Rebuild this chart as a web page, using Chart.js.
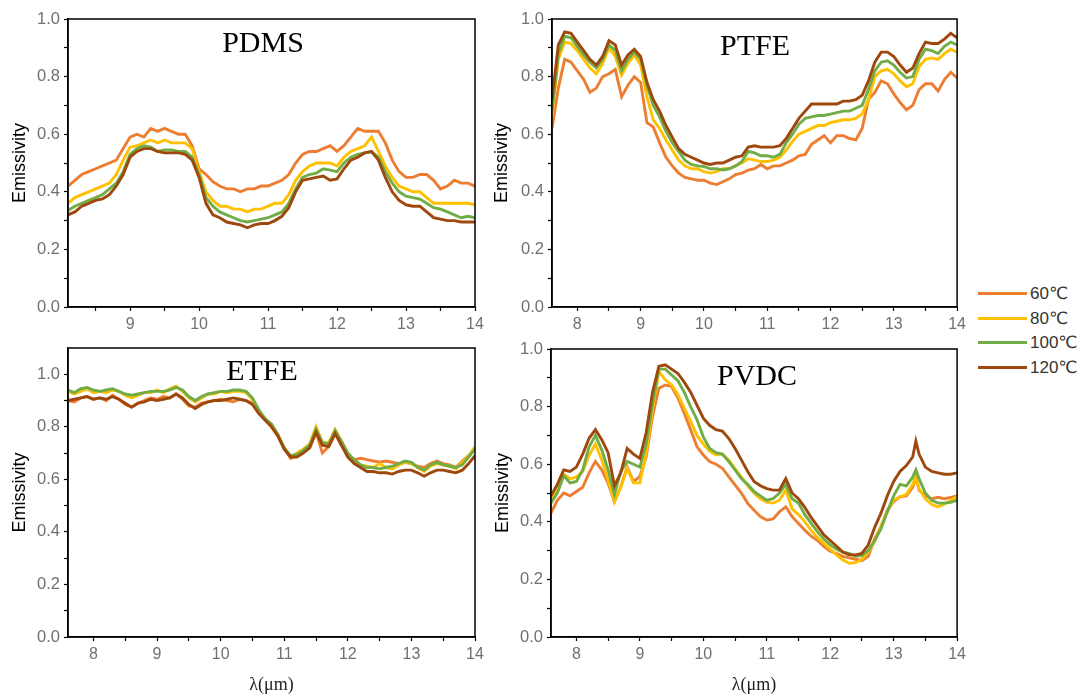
<!DOCTYPE html>
<html lang="en">
<head>
<meta charset="utf-8">
<title>Emissivity spectra</title>
<script src="https://cdn.jsdelivr.net/npm/chart.js@4.4.1/dist/chart.umd.min.js"></script>
<style>
  html, body { margin: 0; padding: 0; background: #fff; }
  body { position: relative; width: 1087px; height: 696px; overflow: hidden; }
  .panel { position: absolute; }
  .panel canvas { display: block; }
  #legend { position: absolute; left: 978px; top: 281px; font-family: "Liberation Sans", Arial, "DejaVu Sans", sans-serif; font-size: 17px; color: #333; }
  #legend .row { display: flex; align-items: center; height: 24.7px; }
  #legend .swatch { width: 49px; height: 3px; margin-right: 3px; }
</style>
</head>
<body>
<div class="panel" style="left:0;top:0;width:490px;height:335px"><canvas id="c0"></canvas></div>
<div class="panel" style="left:480px;top:0;width:490px;height:335px"><canvas id="c1"></canvas></div>
<div class="panel" style="left:0;top:330px;width:490px;height:366px"><canvas id="c2"></canvas></div>
<div class="panel" style="left:480px;top:330px;width:490px;height:366px"><canvas id="c3"></canvas></div>
<div id="legend"></div>
<script>
// ---- series and labels ----
const seriesNames  = ['60℃', '80℃', '100℃', '120℃'];
const seriesColors = ['#ED7D31', '#FFC000', '#70AD47', '#9E480E'];
const panelNames   = ['PDMS', 'PTFE', 'ETFE', 'PVDC'];
const yTitle = 'Emissivity';
const xTitle = 'λ(μm)';

// ---- tick values ----
const yTicks = [0, 0.1, 0.2, 0.3, 0.4, 0.5, 0.6, 0.7, 0.8, 0.9, 1.0];
const xTicksPDMS = [8.5, 9, 9.5, 10, 10.5, 11, 11.5, 12, 12.5, 13, 13.5, 14];
const xTicksFull = [8, 8.5, 9, 9.5, 10, 10.5, 11, 11.5, 12, 12.5, 13, 13.5, 14];

// ---- wavelengths (μm) ----
const wlPDMS = [8.1,8.2,8.3,8.4,8.5,8.6,8.7,8.8,8.9,9.0,9.1,9.2,9.3,9.4,9.5,9.6,9.7,9.8,9.9,10.0,
  10.1,10.2,10.3,10.4,10.5,10.6,10.7,10.8,10.9,11.0,11.1,11.2,11.3,11.4,11.5,11.6,11.7,11.8,11.9,12.0,
  12.1,12.2,12.3,12.4,12.5,12.6,12.7,12.8,12.9,13.0,13.1,13.2,13.3,13.4,13.5,13.6,13.7,13.8,13.9,14.0];
const wlFull = [7.6,7.7,7.8,7.9,8.0,8.1,8.2,8.3,8.4,8.5,8.6,8.7,8.8,8.9,9.0,9.1,9.2,9.3,9.4,9.5,
  9.6,9.7,9.8,9.9,10.0,10.1,10.2,10.3,10.4,10.5,10.6,10.7,10.8,10.9,11.0,11.1,11.2,11.3,11.4,11.5,
  11.6,11.7,11.8,11.9,12.0,12.1,12.2,12.3,12.4,12.5,12.6,12.7,12.8,12.9,13.0,13.1,13.2,13.3,13.4,13.5,
  13.6,13.7,13.8,13.9,14.0];
const wlPVDC = [7.6,7.7,7.8,7.9,8.0,8.1,8.2,8.3,8.4,8.5,8.6,8.7,8.8,8.9,9.0,9.1,9.2,9.3,9.4,9.5,
  9.6,9.7,9.8,9.9,10.0,10.1,10.2,10.3,10.4,10.5,10.6,10.7,10.8,10.9,11.0,11.1,11.2,11.3,11.4,11.5,
  11.6,11.7,11.8,11.9,12.0,12.1,12.2,12.3,12.4,12.5,12.6,12.7,12.8,12.9,13.0,13.1,13.2,13.3,13.35,13.4,13.5,
  13.6,13.7,13.8,13.9,14.0];

// ---- PDMS ----
const pdms60 = [0.42,0.44,0.46,0.47,0.48,0.49,0.50,0.51,0.55,0.59, 0.60,0.59,0.62,0.61,0.62,0.61,0.60,0.60,0.56,0.48,
  0.46,0.435,0.42,0.41,0.41,0.40,0.41,0.41,0.42,0.42, 0.43,0.44,0.46,0.50,0.53,0.54,0.54,0.55,0.56,0.54,
  0.56,0.59,0.62,0.61,0.61,0.61,0.57,0.51,0.47,0.45, 0.45,0.46,0.46,0.44,0.41,0.42,0.44,0.43,0.43,0.42];
const pdms80 = [0.36,0.38,0.39,0.40,0.41,0.42,0.43,0.46,0.51,0.555, 0.56,0.57,0.58,0.57,0.58,0.57,0.57,0.57,0.55,0.47,
  0.40,0.37,0.35,0.35,0.34,0.34,0.33,0.34,0.34,0.35, 0.36,0.36,0.39,0.44,0.47,0.49,0.50,0.50,0.50,0.49,
  0.52,0.54,0.55,0.56,0.59,0.54,0.49,0.45,0.42,0.41, 0.40,0.40,0.38,0.36,0.36,0.36,0.36,0.36,0.36,0.355];
const pdms100 = [0.335,0.35,0.36,0.37,0.38,0.39,0.41,0.43,0.47,0.53, 0.55,0.56,0.555,0.54,0.545,0.545,0.54,0.54,0.52,0.46,
  0.38,0.35,0.33,0.32,0.31,0.30,0.295,0.30,0.305,0.31, 0.32,0.33,0.36,0.41,0.45,0.46,0.465,0.48,0.475,0.47,
  0.50,0.52,0.53,0.535,0.54,0.52,0.47,0.43,0.40,0.385, 0.38,0.375,0.36,0.345,0.34,0.33,0.32,0.31,0.315,0.31];
const pdms120 = [0.32,0.33,0.35,0.36,0.37,0.375,0.39,0.42,0.46,0.52, 0.54,0.55,0.55,0.54,0.535,0.535,0.535,0.53,0.51,0.45,
  0.36,0.32,0.31,0.295,0.29,0.285,0.275,0.285,0.29,0.29, 0.30,0.315,0.345,0.40,0.44,0.445,0.45,0.455,0.44,0.445,
  0.48,0.51,0.52,0.535,0.54,0.51,0.45,0.40,0.37,0.355, 0.35,0.35,0.33,0.31,0.305,0.30,0.30,0.295,0.295,0.295];

// ---- PTFE ----
const ptfe60 = [0.62,0.76,0.86,0.85,0.82,0.79,0.745,0.76,0.80,0.81, 0.825,0.73,0.77,0.80,0.78,0.64,0.625,0.57,0.52,0.49,
  0.465,0.45,0.445,0.44,0.44,0.43,0.425,0.435,0.445,0.46, 0.465,0.475,0.48,0.495,0.48,0.49,0.49,0.50,0.51,0.525,
  0.53,0.565,0.58,0.595,0.57,0.595,0.595,0.585,0.58,0.62, 0.72,0.745,0.785,0.775,0.74,0.71,0.685,0.70,0.755,0.775,
  0.775,0.75,0.79,0.815,0.795];
const ptfe80 = [0.66,0.86,0.92,0.915,0.89,0.86,0.83,0.81,0.845,0.90, 0.87,0.805,0.845,0.875,0.84,0.73,0.65,0.62,0.58,0.545,
  0.51,0.49,0.48,0.48,0.47,0.465,0.47,0.48,0.48,0.49, 0.50,0.515,0.51,0.505,0.505,0.51,0.52,0.545,0.575,0.60,
  0.61,0.62,0.63,0.63,0.64,0.645,0.65,0.65,0.655,0.67, 0.72,0.80,0.82,0.825,0.81,0.785,0.765,0.775,0.835,0.86,
  0.865,0.86,0.88,0.895,0.885];
const ptfe100 = [0.68,0.88,0.94,0.935,0.905,0.875,0.85,0.83,0.86,0.91, 0.89,0.82,0.86,0.885,0.86,0.77,0.70,0.66,0.61,0.57,
  0.54,0.51,0.495,0.49,0.488,0.48,0.48,0.476,0.48,0.49, 0.505,0.54,0.535,0.525,0.525,0.52,0.53,0.57,0.60,0.635,
  0.655,0.66,0.665,0.665,0.67,0.675,0.68,0.68,0.69,0.70, 0.755,0.82,0.85,0.855,0.84,0.815,0.795,0.80,0.86,0.895,
  0.89,0.88,0.905,0.92,0.91];
const ptfe120 = [0.72,0.91,0.955,0.95,0.92,0.89,0.86,0.84,0.87,0.925, 0.91,0.84,0.875,0.895,0.87,0.78,0.72,0.68,0.63,0.59,
  0.55,0.53,0.52,0.51,0.50,0.495,0.50,0.50,0.51,0.52, 0.525,0.555,0.56,0.555,0.555,0.555,0.56,0.585,0.62,0.655,
  0.68,0.705,0.705,0.705,0.705,0.705,0.715,0.715,0.72,0.735, 0.785,0.85,0.885,0.885,0.87,0.84,0.815,0.83,0.88,0.92,
  0.915,0.915,0.93,0.95,0.935];

// ---- ETFE ----
const etfe60 = [0.90,0.895,0.91,0.915,0.905,0.91,0.90,0.92,0.905,0.885, 0.875,0.89,0.90,0.91,0.905,0.915,0.91,0.925,0.905,0.88,
  0.875,0.89,0.895,0.90,0.905,0.90,0.895,0.905,0.90,0.89, 0.855,0.83,0.81,0.77,0.72,0.68,0.69,0.705,0.72,0.78,
  0.70,0.725,0.775,0.73,0.695,0.675,0.68,0.675,0.67,0.665, 0.67,0.665,0.66,0.665,0.66,0.65,0.645,0.66,0.67,0.66,
  0.655,0.645,0.67,0.69,0.715];
const etfe80 = [0.935,0.925,0.935,0.945,0.93,0.935,0.93,0.94,0.935,0.92, 0.91,0.92,0.93,0.93,0.94,0.93,0.945,0.955,0.935,0.91,
  0.895,0.91,0.925,0.925,0.935,0.93,0.935,0.935,0.93,0.905, 0.86,0.83,0.80,0.765,0.72,0.685,0.70,0.715,0.735,0.80,
  0.74,0.74,0.79,0.745,0.70,0.67,0.655,0.65,0.645,0.66, 0.645,0.64,0.655,0.665,0.66,0.645,0.63,0.65,0.66,0.655,
  0.65,0.64,0.665,0.69,0.725];
const etfe100 = [0.94,0.93,0.945,0.95,0.94,0.935,0.94,0.945,0.935,0.925, 0.92,0.925,0.93,0.935,0.935,0.935,0.94,0.95,0.94,0.915,
  0.90,0.915,0.925,0.93,0.935,0.935,0.94,0.94,0.935,0.91, 0.865,0.83,0.81,0.77,0.72,0.69,0.695,0.71,0.73,0.79,
  0.74,0.735,0.785,0.745,0.70,0.675,0.655,0.645,0.645,0.64, 0.645,0.65,0.66,0.67,0.665,0.645,0.635,0.655,0.665,0.655,
  0.65,0.645,0.655,0.685,0.715];
const etfe120 = [0.90,0.905,0.91,0.915,0.905,0.91,0.905,0.915,0.905,0.89, 0.875,0.89,0.895,0.905,0.90,0.905,0.91,0.925,0.91,0.885,
  0.87,0.885,0.895,0.90,0.90,0.905,0.91,0.905,0.90,0.885, 0.85,0.825,0.80,0.765,0.715,0.685,0.685,0.70,0.72,0.78,
  0.73,0.725,0.775,0.73,0.685,0.66,0.645,0.63,0.63,0.625, 0.625,0.62,0.63,0.635,0.635,0.625,0.612,0.625,0.635,0.635,
  0.63,0.625,0.635,0.66,0.69];

// ---- PVDC ----
const pvdc60 = [0.43,0.475,0.50,0.49,0.505,0.52,0.57,0.61,0.58,0.534, 0.47,0.522,0.59,0.54,0.557,0.626,0.766,0.864,0.875,0.87,
  0.83,0.777,0.72,0.661,0.632,0.609,0.60,0.586,0.557,0.528, 0.50,0.464,0.44,0.418,0.406,0.41,0.435,0.452,0.418,0.394,
  0.371,0.35,0.335,0.315,0.298,0.29,0.28,0.275,0.27,0.265, 0.28,0.34,0.383,0.44,0.47,0.487,0.49,0.52,0.555,0.51,0.49,
  0.48,0.485,0.48,0.485,0.49];
const pvdc80 = [0.47,0.51,0.565,0.55,0.555,0.575,0.63,0.67,0.615,0.545, 0.47,0.522,0.585,0.535,0.535,0.638,0.79,0.922,0.893,0.876,
  0.841,0.795,0.75,0.70,0.67,0.645,0.632,0.635,0.615,0.585, 0.555,0.525,0.50,0.48,0.468,0.465,0.475,0.51,0.445,0.425,
  0.40,0.37,0.345,0.325,0.305,0.285,0.267,0.256,0.258,0.27, 0.295,0.33,0.385,0.435,0.475,0.487,0.495,0.53,0.557,0.515,0.48,
  0.46,0.452,0.462,0.475,0.487];
const pvdc100 = [0.465,0.50,0.56,0.535,0.54,0.58,0.66,0.70,0.65,0.58, 0.495,0.575,0.61,0.60,0.59,0.67,0.81,0.93,0.93,0.91,
  0.89,0.85,0.80,0.755,0.695,0.655,0.64,0.635,0.61,0.58, 0.55,0.53,0.505,0.49,0.475,0.48,0.50,0.53,0.48,0.465,
  0.425,0.395,0.365,0.34,0.32,0.305,0.295,0.29,0.28,0.283, 0.30,0.335,0.375,0.435,0.49,0.53,0.525,0.555,0.58,0.55,0.50,
  0.475,0.465,0.465,0.468,0.475];
const pvdc120 = [0.49,0.53,0.58,0.575,0.59,0.635,0.69,0.72,0.685,0.64, 0.525,0.57,0.655,0.635,0.62,0.71,0.85,0.94,0.945,0.93,
  0.915,0.885,0.85,0.805,0.76,0.735,0.72,0.715,0.69,0.655, 0.615,0.575,0.54,0.525,0.515,0.51,0.51,0.55,0.50,0.48,
  0.45,0.415,0.385,0.355,0.335,0.315,0.295,0.285,0.285,0.29, 0.32,0.38,0.43,0.49,0.54,0.575,0.595,0.625,0.68,0.635,0.59,
  0.575,0.57,0.565,0.565,0.57];

// ---- drawing helpers ----
const sansFamily = '"Liberation Sans", Arial, "DejaVu Sans", sans-serif';
const serifFamily = '"Liberation Serif", "Times New Roman", "DejaVu Serif", serif';
const tickGray = '#707070';

// closes the plot box on the top and right sides
const framePlugin = {
  id: 'frame',
  afterDraw(chart) {
    const { ctx, chartArea: a } = chart;
    ctx.save();
    ctx.strokeStyle = '#000';
    ctx.lineWidth = 1.5;
    ctx.strokeRect(a.left, a.top, a.right - a.left, a.bottom - a.top);
    ctx.restore();
  }
};

// material name written inside the plot box
const namePlugin = {
  id: 'panelName',
  afterDraw(chart, args, opts) {
    const { ctx, chartArea: a } = chart;
    ctx.save();
    ctx.font = '30px ' + serifFamily;
    ctx.fillStyle = '#000';
    ctx.textAlign = 'center';
    ctx.textBaseline = 'alphabetic';
    ctx.fillText(opts.text, a.left + opts.dx, a.top + opts.dy);
    ctx.restore();
  }
};

function buildPanel(canvasId, name, wl, series, opts) {
  const datasets = series.map((vals, i) => ({
    label: seriesNames[i],
    data: vals.map((v, k) => ({ x: wl[k], y: v })),
    borderColor: seriesColors[i],
    backgroundColor: seriesColors[i],
    borderWidth: 2.9,
    pointRadius: 0,
    tension: 0,
    fill: false,
    order: series.length - 1 - i   // hotter curves sit on top
  }));

  return new Chart(document.getElementById(canvasId), {
    type: 'line',
    data: { datasets },
    plugins: [framePlugin, namePlugin],
    options: {
      responsive: true,
      maintainAspectRatio: false,
      animation: false,
      events: [],
      layout: { padding: { top: opts.padTop, right: opts.padRight, left: 0, bottom: 0 } },
      plugins: {
        legend: { display: false },
        tooltip: { enabled: false },
        panelName: { text: name, dx: opts.nameDx, dy: opts.nameDy }
      },
      scales: {
        x: {
          type: 'linear',
          min: opts.xMin,
          max: 14,
          afterBuildTicks: s => { s.ticks = opts.xTicks.map(v => ({ value: v })); },
          afterFit: s => { s.height = opts.xHeight; },
          ticks: {
            autoSkip: false,
            maxRotation: 0,
            padding: 4,
            color: tickGray,
            font: { family: sansFamily, size: 16 },
            callback: v => (Number.isInteger(v) ? String(v) : '')
          },
          grid: { drawOnChartArea: false, drawTicks: true, tickLength: 4, tickColor: '#000', tickWidth: 1.2 },
          border: { display: true, color: '#000', width: 1.5 },
          title: {
            display: opts.showXTitle,
            text: xTitle,
            color: '#222',
            font: { family: serifFamily, size: 18 },
            padding: { top: 0, bottom: 0 }
          }
        },
        y: {
          type: 'linear',
          min: 0,
          max: opts.yMax,
          afterBuildTicks: s => { s.ticks = yTicks.map(v => ({ value: v })); },
          afterFit: s => { s.width = opts.yWidth; },
          ticks: {
            autoSkip: false,
            padding: 4,
            color: tickGray,
            font: { family: sansFamily, size: 16.5 },
            callback: v => { const t = Math.round(v * 10); return t % 2 === 0 ? (t / 10).toFixed(1) : ''; }
          },
          grid: { drawOnChartArea: false, drawTicks: true, tickLength: 4, tickColor: '#000', tickWidth: 1.2 },
          border: { display: true, color: '#000', width: 1.5 },
          title: {
            display: true,
            text: yTitle,
            color: '#000',
            font: { family: sansFamily, size: 18 },
            padding: { top: opts.yTitlePad, bottom: 0 }
          }
        }
      }
    }
  });
}

buildPanel('c0', panelNames[0], wlPDMS, [pdms60, pdms80, pdms100, pdms120], {
  xMin: 8.1, yMax: 1.0, xTicks: xTicksPDMS, padTop: 19, padRight: 15,
  yWidth: 68, xHeight: 28, yTitlePad: 9, showXTitle: false, nameDx: 195, nameDy: 33
});
buildPanel('c1', panelNames[1], wlFull, [ptfe60, ptfe80, ptfe100, ptfe120], {
  xMin: 7.6, yMax: 1.0, xTicks: xTicksFull, padTop: 19, padRight: 12,
  yWidth: 72, xHeight: 28, yTitlePad: 11, showXTitle: false, nameDx: 203, nameDy: 36
});
buildPanel('c2', panelNames[2], wlFull, [etfe60, etfe80, etfe100, etfe120], {
  xMin: 7.6, yMax: 1.1, xTicks: xTicksFull, padTop: 18, padRight: 15,
  yWidth: 68, xHeight: 59, yTitlePad: 9, showXTitle: true, nameDx: 194, nameDy: 32
});
buildPanel('c3', panelNames[3], wlPVDC, [pvdc60, pvdc80, pvdc100, pvdc120], {
  xMin: 7.6, yMax: 1.0, xTicks: xTicksFull, padTop: 19, padRight: 12,
  yWidth: 71, xHeight: 59, yTitlePad: 12, showXTitle: true, nameDx: 206, nameDy: 36
});

// shared legend on the right
const legendEl = document.getElementById('legend');
seriesNames.forEach((n, i) => {
  const row = document.createElement('div');
  row.className = 'row';
  const sw = document.createElement('span');
  sw.className = 'swatch';
  sw.style.background = seriesColors[i];
  const label = document.createElement('span');
  label.textContent = n;
  row.appendChild(sw);
  row.appendChild(label);
  legendEl.appendChild(row);
});
</script>
</body>
</html>
